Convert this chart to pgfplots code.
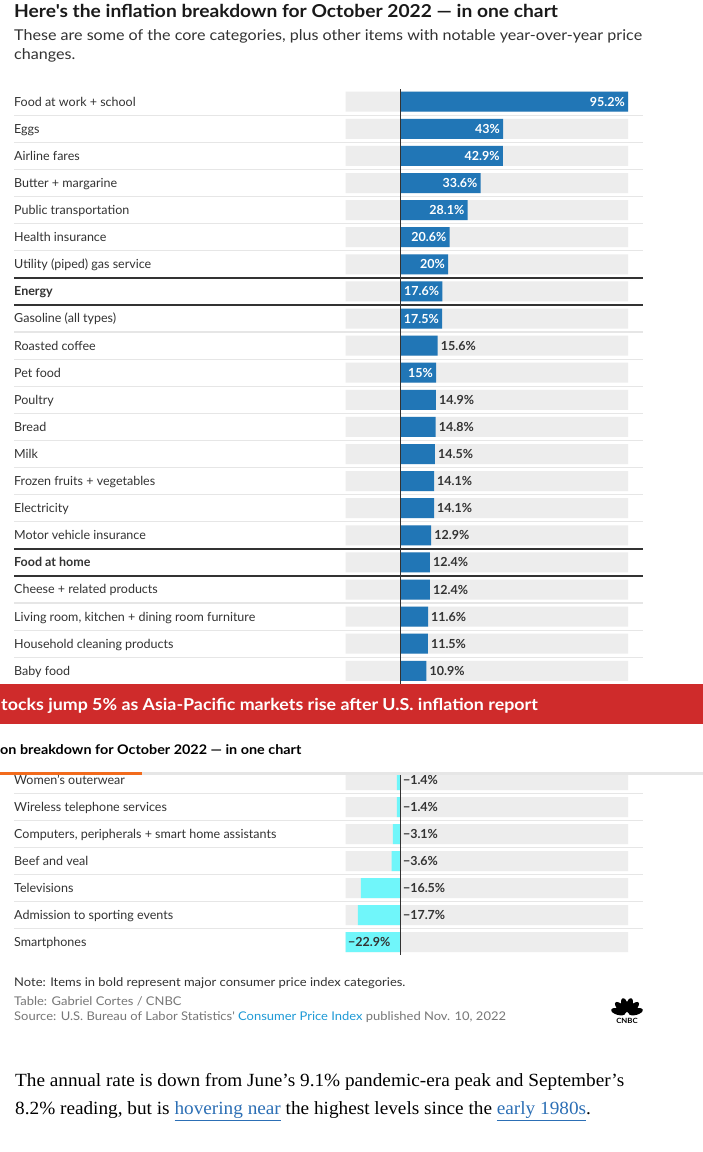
\documentclass[border=0pt]{standalone}
\usepackage{pgfplots}
\pgfplotsset{compat=1.18}
\usetikzlibrary{calc}
\usepackage{fontspec}
\setmainfont{Lato}
\newfontfamily\latow{Lato}[FakeStretch=1.08]
\newfontfamily\artfont{Liberation Serif}[FakeStretch=1.035]
\definecolor{txt}{HTML}{333333}
\definecolor{ttl}{HTML}{1A1A1A}
\definecolor{bggrey}{HTML}{EDEDED}
\definecolor{sepgrey}{HTML}{E6E6E6}
\definecolor{barblue}{HTML}{2176B6}
\definecolor{barcyan}{HTML}{70F6FA}
\definecolor{bannerred}{HTML}{CF2B2B}
\definecolor{orangeline}{HTML}{F26B1D}
\definecolor{srcgrey}{HTML}{777777}
\definecolor{srcblue}{HTML}{1E9AD6}
\definecolor{artblue}{HTML}{2C6FB5}
\newcommand{\fsz}[1]{\fontsize{#1}{#1}\selectfont}
\begin{document}
\begin{tikzpicture}
\fill[white] (0,0) rectangle (703pt,1152pt);
% ---------- separators (pixel coordinates, origin top left) ----------
\begin{scope}[x=1pt,y=-1pt,shift={(0pt,1152pt)}]
\foreach \y in {115.25,142.35,169.45,196.55,223.65,250.75,332.05,359.15,386.25,413.35,440.45,467.55,494.65,521.75,603.05,630.15,657.25,793.5,820.5,847.5,874.5,901.5,928.5}
  \draw[sepgrey,line width=1.2pt] (14,\y) -- (643,\y);
\foreach \y in {277.85,304.95,548.85,575.95}
  \draw[txt,line width=1.4pt] (14,\y) -- (643,\y);
\end{scope}
% ---------- the chart ----------
\begin{axis}[at={(0pt,0pt)},anchor=south west,scale only axis,width=703pt,height=1152pt,
  xmin=-167.36,xmax=126.56,ymin=0,ymax=1152,y dir=reverse,hide axis,clip=false,
  /pgf/number format/assume math mode=true]
% grey backgrounds
\addplot[xbar,bar shift=0pt,bar width=20,fill=bggrey,draw=none] coordinates {
(95.2,101.7)(95.2,128.8)(95.2,155.9)(95.2,183.0)(95.2,210.1)(95.2,237.2)(95.2,264.3)(95.2,291.4)(95.2,318.5)(95.2,345.6)(95.2,372.7)(95.2,399.8)(95.2,426.9)(95.2,454.0)(95.2,481.1)(95.2,508.2)(95.2,535.3)(95.2,562.4)(95.2,589.5)(95.2,616.6)(95.2,643.7)(95.2,670.8)
(95.2,780)(95.2,807)(95.2,834)(95.2,861)(95.2,888)(95.2,915)(95.2,942)};
\addplot[xbar,bar shift=0pt,bar width=20,fill=bggrey,draw=none] coordinates {
(-22.9,101.7)(-22.9,128.8)(-22.9,155.9)(-22.9,183.0)(-22.9,210.1)(-22.9,237.2)(-22.9,264.3)(-22.9,291.4)(-22.9,318.5)(-22.9,345.6)(-22.9,372.7)(-22.9,399.8)(-22.9,426.9)(-22.9,454.0)(-22.9,481.1)(-22.9,508.2)(-22.9,535.3)(-22.9,562.4)(-22.9,589.5)(-22.9,616.6)(-22.9,643.7)(-22.9,670.8)
(-22.9,780)(-22.9,807)(-22.9,834)(-22.9,861)(-22.9,888)(-22.9,915)(-22.9,942)};
% positive values
\addplot[xbar,bar shift=0pt,bar width=20,fill=barblue,draw=none] coordinates {
(95.2,101.7)(43,128.8)(42.9,155.9)(33.6,183.0)(28.1,210.1)(20.6,237.2)(20,264.3)(17.6,291.4)(17.5,318.5)(15.6,345.6)(15,372.7)(14.9,399.8)(14.8,426.9)(14.5,454.0)(14.1,481.1)(14.1,508.2)(12.9,535.3)(12.4,562.4)(12.4,589.5)(11.6,616.6)(11.5,643.7)(10.9,670.8)};
% negative values
\addplot[xbar,bar shift=0pt,bar width=20,fill=barcyan,draw=none] coordinates {
(-1.4,780)(-1.4,807)(-3.1,834)(-3.6,861)(-16.5,888)(-17.7,915)(-22.9,942)};
% labels inside bars
\addplot[draw=none,mark=none,point meta=x,
  nodes near coords={\pgfmathprintnumber{\pgfplotspointmeta}\%},
  every node near coord/.append style={anchor=east,xshift=-3pt,text=white,font=\bfseries\fsz{12.5},inner sep=0pt}]
coordinates {(95.2,101.7)(43,128.8)(42.9,155.9)(33.6,183.0)(28.1,210.1)(20.6,237.2)(20,264.3)(17.6,291.4)(17.5,318.5)(15,372.7)};
% labels outside bars
\addplot[draw=none,mark=none,point meta=x,
  nodes near coords={\pgfmathprintnumber{\pgfplotspointmeta}\%},
  every node near coord/.append style={anchor=west,xshift=3pt,text=txt,font=\bfseries\fsz{12.5},inner sep=0pt}]
coordinates {(15.6,345.6)(14.9,399.8)(14.8,426.9)(14.5,454.0)(14.1,481.1)(14.1,508.2)(12.9,535.3)(12.4,562.4)(12.4,589.5)(11.6,616.6)(11.5,643.7)(10.9,670.8)};
% labels of negative values
\addplot[draw=none,mark=none,point meta=explicit,
  nodes near coords={−\pgfmathprintnumber{\pgfplotspointmeta}\%},
  every node near coord/.append style={anchor=west,xshift=2.5pt,text=txt,font=\bfseries\fsz{12.5},inner sep=0pt}]
coordinates {(0,780)[1.4](0,807)[1.4](0,834)[3.1](0,861)[3.6](0,888)[16.5](0,915)[17.7](-22.9,942)[22.9]};
% zero lines
\draw[txt,line width=0.9pt] (axis cs:0,89) -- (axis cs:0,685);
\draw[txt,line width=0.9pt] (axis cs:0,774) -- (axis cs:0,955);
\end{axis}
% ---------- texts ----------
\begin{scope}[x=1pt,y=-1pt,shift={(0pt,1152pt)}]
\node[anchor=base west,inner sep=0,text=ttl,font=\latow\bfseries\fsz{17.8}] at (14,18) {Here's the inflation breakdown for October 2022 — in one chart};
\node[anchor=base west,inner sep=0,text=txt,font=\latow\fsz{14.9}] at (14,41) {These are some of the core categories, plus other items with notable year-over-year price};
\node[anchor=base west,inner sep=0,text=txt,font=\latow\fsz{14.9}] at (14,60) {changes.};
\foreach \y/\t in {101.7/Food at work + school,128.8/Eggs,155.9/Airline fares,183.0/Butter + margarine,210.1/Public transportation,237.2/Health insurance,264.3/Utility (piped) gas service,291.4/\textbf{Energy},318.5/Gasoline (all types),345.6/Roasted coffee,372.7/Pet food,399.8/Poultry,426.9/Bread,454.0/Milk,481.1/Frozen fruits + vegetables,508.2/Electricity,535.3/Motor vehicle insurance,562.4/\textbf{Food at home},589.5/Cheese + related products,616.6/{Living room, kitchen + dining room furniture},643.7/Household cleaning products,670.8/Baby food,780/Women's outerwear,807/Wireless telephone services,834/{Computers, peripherals + smart home assistants},861/Beef and veal,888/Televisions,915/Admission to sporting events,942/Smartphones}
  \node[anchor=base west,inner sep=0,text=txt,font=\fsz{12.5}] at (14,\y+4.5) {\t};
% banner
\fill[bannerred] (0,684.5) rectangle (703,724.5);
\node[anchor=base west,inner sep=0,text=white,font=\latow\bfseries\fsz{16.5}] at (1,711) {tocks jump 5\% as Asia-Pacific markets rise after U.S. inflation report};
% sticky header
\fill[white] (0,724.5) rectangle (703,772);
\node[anchor=base west,inner sep=0,text=black,font=\latow\bfseries\fsz{13.3}] at (0,755) {on breakdown for October 2022 — in one chart};
\fill[sepgrey] (0,772) rectangle (703,775.3);
\fill[orangeline] (0,772) rectangle (142,775.3);
% footer
\node[anchor=base west,inner sep=0,text=txt,font=\latow\fsz{12}] at (14,987) {Note: Items in bold represent major consumer price index categories.};
\node[anchor=base west,inner sep=0,text=srcgrey,font=\latow\fsz{12}] at (14,1005.5) {Table: Gabriel Cortes / CNBC};
\node[anchor=base west,inner sep=0,text=srcgrey,font=\latow\fsz{12}] at (14,1021) {Source: U.S. Bureau of Labor Statistics' \textcolor{srcblue}{Consumer Price Index} published Nov. 10, 2022};
% CNBC peacock
\foreach \a in {15,45,75,105,135,165}
  \fill[black] ($(627,1014)+(\a:-9)$) ellipse[x radius=7.3,y radius=3.3,rotate=-\a];
\fill[white] (627,1014) circle (1.6);
\node[inner sep=0,font=\latow\bfseries\fsz{7.2},text=black] at (627,1020.5) {CNBC};
% article
\node[anchor=base west,inner sep=0,text=black,font=\artfont\fsz{18.6}] at (15,1087) {The annual rate is down from June’s 9.1\% pandemic-era peak and September’s};
\node[anchor=base west,inner sep=0,text=black,font=\artfont\fsz{18.6}] at (15,1115) {8.2\% reading, but is \textcolor{artblue}{\underline{hovering near}} the highest levels since the \textcolor{artblue}{\underline{early 1980s}}.};
\end{scope}
\end{tikzpicture}
\end{document}
